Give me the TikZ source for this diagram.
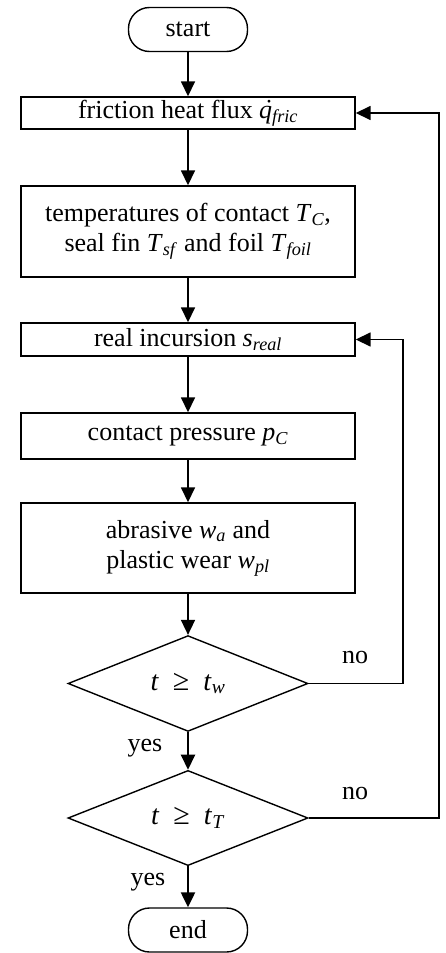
\documentclass[tikz,border=0pt]{standalone}
\usepackage{fontspec}
\setmainfont{Liberation Serif}
\usetikzlibrary{shapes.geometric,arrows.meta}
\newcommand\mv[2]{\textit{#1}\textsubscript{\textit{#2}}}
\newcommand\geqsp{\hspace{0.5em}{\fontsize{30}{30}\selectfont ≥}\hspace{0.5em}}
\begin{document}
\begin{tikzpicture}[x=1pt,y=-1pt,
  every node/.style={font=\fontsize{26}{30}\selectfont},
  box/.style={draw,line width=1.4pt,inner sep=0pt,minimum width=334pt,align=center},
  term/.style={draw,line width=1.4pt,rounded corners=21pt,inner sep=0pt,minimum width=119pt,minimum height=44pt},
  dec/.style={draw,diamond,line width=1.4pt,inner sep=0pt,minimum width=240pt,minimum height=91pt},
  dtxt/.style={font=\fontsize{28}{30}\selectfont},
  arr/.style={line width=1.6pt,-{Triangle[width=14pt,length=15pt]}},
  yarr/.style={line width=2.3pt,-{Triangle[width=14pt,length=15pt]}},
  lbl/.style={inner sep=0pt}]
\useasboundingbox (0,0) rectangle (445,953);
\node[term] (start) at (188,29.5) {start};
\node[box,minimum height=32pt] (b1) at (188,113) {friction heat flux {\itshape q\llap{\raisebox{0.02em}{\char"02D9}\hspace{0.02em}}}\textsubscript{\textit{fric}}};
\node[box,minimum height=91pt] (b2) at (188,231.5) {temperatures of contact \mv{T}{C},\\ seal fin \mv{T}{sf} and foil \mv{T}{foil}};
\node[box,minimum height=33pt] (b3) at (188,339.5) {real incursion \mv{s}{real}};
\node[box,minimum height=46pt] (b4) at (188,436) {contact pressure \mv{p}{C}};
\node[box,minimum height=90pt] (b5) at (188,548) {abrasive \mv{w}{a} and\\ plastic wear \mv{w}{pl}};
\node[dec,dtxt] (d1) at (188,683.5) {\textit{t}\geqsp\mv{t}{w}};
\node[dec,dtxt,minimum height=90pt] (d2) at (188,818) {\textit{t}\geqsp\mv{t}{T}};
\node[term] (end) at (188,930) {end};
\coordinate (c1) at (403,683.5);
\coordinate (c2) at (439,818);
\draw[arr] (start) -- (b1);
\draw[arr] (b1) -- (b2);
\draw[arr] (b2) -- (b3);
\draw[arr] (b3) -- (b4);
\draw[arr] (b4) -- (b5);
\draw[arr] (b5) -- (d1);
\draw[yarr] (d1) -- (d2);
\draw[yarr] (d2) -- (end);
\draw[arr] (d1.east) -- (c1) |- (b3.east);
\draw[arr] (d2.east) -- (c2) |- (b1.east);
\node[lbl] (n1) at (355,657) {no};
\node[lbl] (n2) at (355,793) {no};
\node[lbl] (y1) at (145,748) {yes};
\node[lbl] (y2) at (148,882) {yes};
\end{tikzpicture}
\end{document}
